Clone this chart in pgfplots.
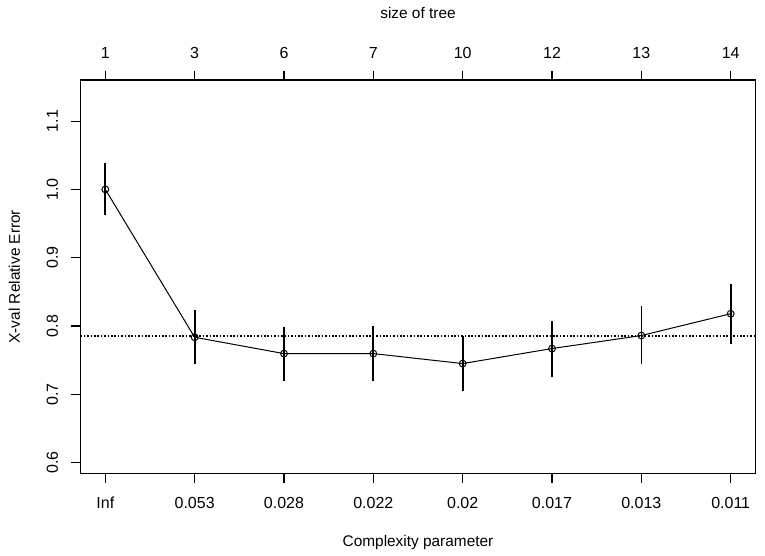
\documentclass[border=0pt]{standalone}
\usepackage{fontspec}
\setmainfont{Liberation Sans}
\usepackage{pgfplots}
\pgfplotsset{compat=1.18}
\begin{document}
\begin{tikzpicture}
\pgfplotsset{
  common/.style={
    scale only axis,
    width=675.4pt, height=393.3pt,
    at={(80.3pt,81.7pt)}, anchor=south west,
    xmin=0.72, xmax=8.28,
    ymin=0.58433, ymax=1.16018,
    /pgf/number format/assume math mode=true,
    tick label style={font=\fontsize{16}{19}\selectfont},
    label style={font=\fontsize{15.4}{18}\selectfont},
    tick style={black, line width=1.1pt},
    major tick length=9.5pt,
    tick align=outside,
  }
}
\begin{axis}[
  common,
  axis line style={line width=1.1pt},
  xtick={1,2,3,4,5,6,7,8},
  xticklabels={Inf,0.053,0.028,0.022,0.02,0.017,0.013,0.011},
  xtick pos=lower,
  ytick={0.6,0.7,0.8,0.9,1.0,1.1},
  yticklabels={0.6,0.7,0.8,0.9,1.0,1.1},
  ytick pos=left,
  xticklabel style={anchor=base},
  xticklabel shift=26pt,
  yticklabel style={rotate=90, anchor=base},
  yticklabel shift=13pt,
  xlabel={Complexity parameter},
  xlabel style={at={(axis description cs:0.5,0)}, anchor=base, yshift=-72.7pt},
  ylabel={X-val Relative Error},
  ylabel style={at={(axis description cs:0,0.5)}, anchor=base, rotate=0, yshift=60.3pt},
]
\addplot[black, line width=1.1pt, dash pattern=on 1.6pt off 1.8pt] coordinates {(0.72,0.7854) (8.28,0.7854)};
\addplot[black, line width=1pt, mark=o, mark size=3.4pt,
  mark options={line width=1pt},
  error bars/.cd, y dir=both, y explicit, error mark=none,
  error bar style={line width=1.7pt}]
  table[x=x, y=y, y error plus=ep, y error minus=em] {
x y ep em
1 1.000 0.039 0.038
2 0.7835 0.0405 0.0385
3 0.7596 0.0389 0.0406
4 0.7596 0.0399 0.0406
5 0.7450 0.0400 0.0400
6 0.7670 0.0400 0.0410
7 0.7860 0.0440 0.0420
8 0.8180 0.0430 0.0450
};
\end{axis}
\begin{axis}[
  common,
  axis x line*=top,
  axis y line=none,
  axis line style={line width=1.1pt},
  xtick={1,2,3,4,5,6,7,8},
  xticklabels={1,3,6,7,10,12,13,14},
  xticklabel style={anchor=base},
  xticklabel shift=12pt,
  xlabel={size of tree},
  xlabel style={at={(axis description cs:0.5,1)}, anchor=base, yshift=61.7pt},
]
\addplot[draw=none] coordinates {(1,0.7)};
\end{axis}
\pgfresetboundingbox
\path[use as bounding box] (0,0) rectangle (765pt,555pt);
\end{tikzpicture}
\end{document}
